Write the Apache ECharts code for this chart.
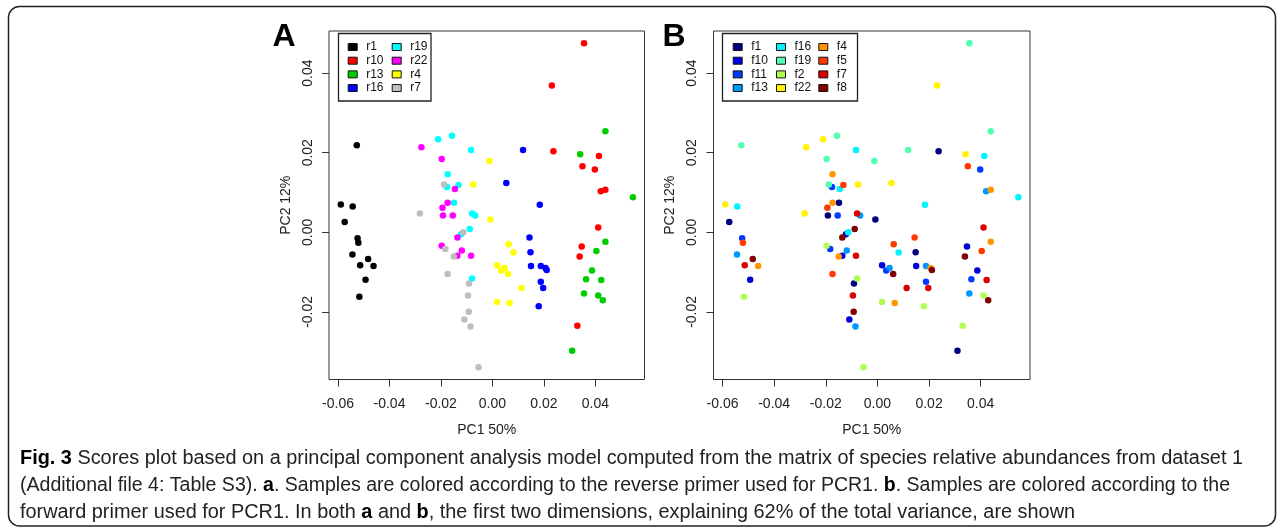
<!DOCTYPE html>
<html><head><meta charset="utf-8">
<script src="https://cdn.jsdelivr.net/npm/echarts@6/dist/echarts.min.js"></script>
<style>html,body{margin:0;padding:0;background:#fff}#c{width:1281px;height:530px}</style>
</head><body><div id="c"></div>
<script>
// ---- data (PCA scores, one entry per sample) ----
const pc1 = [
 -0.0527,-0.0589,-0.0543,-0.0574,-0.0524,-0.0521,-0.0544,-0.0483,-0.0514,-0.0462,-0.0493,-0.0517,
  0.0356, 0.0231, 0.0237, 0.0414, 0.0350, 0.0398, 0.0421, 0.0439, 0.0411, 0.0347, 0.0339, 0.0330,
  0.0439, 0.0341, 0.0546, 0.0439, 0.0404, 0.0387, 0.0364, 0.0423, 0.0356, 0.0411, 0.0429, 0.0310,
  0.0119, 0.0054, 0.0184, 0.0144, 0.0148, 0.0150, 0.0188, 0.0206, 0.0211, 0.0188, 0.0197, 0.0180,
 -0.0211,-0.0157,-0.0083,-0.0174,-0.0176,-0.0132,-0.0149,-0.0079,-0.0067,-0.0088,-0.0122,-0.0079,
 -0.0276,-0.0197,-0.0146,-0.0194,-0.0174,-0.0192,-0.0154,-0.0136,-0.0197,-0.0119,-0.0136,-0.0083,
 -0.0012,-0.0075,-0.0008, 0.0063, 0.0082, 0.0018, 0.0034, 0.0047, 0.0061, 0.0113, 0.0018, 0.0067,
 -0.0188,-0.0282,-0.0113,-0.0183,-0.0150,-0.0174,-0.0091,-0.0095,-0.0092,-0.0109,-0.0085,-0.0054
];
const pc2 = [
  0.0219, 0.0070, 0.0065, 0.0026,-0.0015,-0.0026,-0.0056,-0.0067,-0.0083,-0.0085,-0.0119,-0.0162,
  0.0475, 0.0369, 0.0204, 0.0192, 0.0166, 0.0158, 0.0103, 0.0107, 0.0012,-0.0036,-0.0061,-0.0235,
  0.0254, 0.0196, 0.0088,-0.0024,-0.0047,-0.0096,-0.0118,-0.0120,-0.0154,-0.0159,-0.0171,-0.0298,
  0.0207, 0.0124, 0.0069,-0.0013,-0.0050,-0.0085,-0.0085,-0.0090,-0.0095,-0.0124,-0.0140,-0.0186,
  0.0234, 0.0243, 0.0207, 0.0146, 0.0114, 0.0119, 0.0074, 0.0047, 0.0042, 0.0008,-0.0005,-0.0116,
  0.0214, 0.0184, 0.0109, 0.0062, 0.0074, 0.0042, 0.0042,-0.0013,-0.0034,-0.0046,-0.0059,-0.0059,
  0.0179, 0.0120, 0.0032,-0.0030,-0.0051,-0.0083,-0.0096,-0.0090,-0.0105,-0.0140,-0.0175,-0.0178,
  0.0120, 0.0047, 0.0000,-0.0042,-0.0061,-0.0105,-0.0129,-0.0159,-0.0200,-0.0219,-0.0237,-0.0339
];
const revPrimer = [
 'r1','r1','r1','r1','r1','r1','r1','r1','r1','r1','r1','r1',
 'r10','r10','r10','r10','r10','r10','r10','r10','r10','r10','r10','r10',
 'r13','r13','r13','r13','r13','r13','r13','r13','r13','r13','r13','r13',
 'r16','r16','r16','r16','r16','r16','r16','r16','r16','r16','r16','r16',
 'r19','r19','r19','r19','r19','r19','r19','r19','r19','r19','r19','r19',
 'r22','r22','r22','r22','r22','r22','r22','r22','r22','r22','r22','r22',
 'r4','r4','r4','r4','r4','r4','r4','r4','r4','r4','r4','r4',
 'r7','r7','r7','r7','r7','r7','r7','r7','r7','r7','r7','r7'
];
const fwdPrimer = [
 'f19','f22','f16','f1','f11','f5','f13','f8','f7','f4','f10','f2',
 'f19','f22','f1','f16','f5','f11','f13','f4','f7','f10','f8','f2',
 'f19','f22','f16','f4','f5','f10','f11','f7','f13','f2','f8','f1',
 'f19','f22','f16','f5','f1','f10','f13','f4','f8','f11','f7','f2',
 'f22','f19','f16','f4','f11','f5','f1','f7','f13','f8','f10','f2',
 'f22','f19','f16','f5','f4','f1','f11','f8','f2','f13','f10','f7',
 'f19','f22','f1','f5','f16','f10','f11','f13','f8','f7','f2','f4',
 'f19','f22','f16','f11','f4','f5','f1','f7','f8','f10','f13','f2'
];
const revLevels = ['r1','r10','r13','r16','r19','r22','r4','r7'];
const revColors = ['#000000','#FF0000','#00CD00','#0000FF','#00FFFF','#FF00FF','#FFFF00','#BEBEBE'];
const fwdLevels = ['f1','f10','f11','f13','f16','f19','f2','f22','f4','f5','f7','f8'];
const fwdColors = ['#00007F','#0000DC','#003AFF','#0096FF','#00F3FF','#51FFAE','#AEFF51','#FFF300','#FF9600','#FF3A00','#DC0000','#7F0000'];
const xTicks = [-0.06,-0.04,-0.02,0,0.02,0.04];
const yTicks = [-0.02,0,0.02,0.04];
const xRange = [-0.0635, 0.0591];
const yRange = [-0.0370, 0.0506];
const xName = 'PC1 50%';
const yName = 'PC2 12%';
const captionLines = [
 '{b|Fig. 3} Scores plot based on a principal component analysis model computed from the matrix of species relative abundances from dataset 1',
 '(Additional file 4: Table S3). {b|a}. Samples are colored according to the reverse primer used for PCR1. {b|b}. Samples are colored according to the',
 'forward primer used for PCR1. In both {b|a} and {b|b}, the first two dimensions, explaining 62% of the total variance, are shown'
];

// ---- chart ----
const FONT = '"Liberation Sans", Arial, sans-serif';
const CAPFONT = '"Liberation Sans", Arial, sans-serif';
const CAPSIZE = 20;
function lineWidth(line, size){
  const c = document.createElement('canvas').getContext('2d');
  let w = 0;
  line.split(/(\{b\|[^}]*\})/).forEach(part => {
    if (!part) return;
    const m = part.match(/^\{b\|([^}]*)\}$/);
    c.font = (m ? 'bold ' : '') + size + 'px ' + CAPFONT;
    w += c.measureText(m ? m[1] : part).width;
  });
  return w;
}
const s1 = 1223 / lineWidth(captionLines[0], CAPSIZE);
const s2 = Math.min(s1, 1210 / lineWidth(captionLines[1], CAPSIZE));
const capScales = [s1, s2, s1];

const gridsPx = [
  {left: 329, top: 31, width: 315.5, height: 348.5},
  {left: 713.5, top: 31, width: 316.5, height: 348.5}
];
function mkX(i){
  return {type:'value', gridIndex:i, min:xRange[0], max:xRange[1],
    axisLine:{show:false, onZero:false}, splitLine:{show:false},
    axisTick:{show:true, inside:false, length:7, customValues:xTicks, lineStyle:{color:'#333', width:1}},
    axisLabel:{customValues:xTicks, formatter:v=>v.toFixed(2), margin:18, fontSize:14, color:'#222', fontFamily:FONT},
    name:xName, nameLocation:'middle', nameGap:44, nameTextStyle:{fontSize:14, color:'#222', fontFamily:FONT}};
}
function mkY(i){
  return {type:'value', gridIndex:i, min:yRange[0], max:yRange[1],
    axisLine:{show:false, onZero:false}, splitLine:{show:false},
    axisTick:{show:true, inside:false, length:7, customValues:yTicks, lineStyle:{color:'#333', width:1}},
    axisLabel:{customValues:yTicks, rotate:90, formatter:v=>v.toFixed(2), margin:14, fontSize:14, color:'#222', fontFamily:FONT},
    name:yName, nameLocation:'middle', nameGap:36, nameRotate:90, nameTextStyle:{fontSize:14, color:'#222', fontFamily:FONT}};
}
const series = [];
revLevels.forEach((lv, k) => {
  const d = [];
  for (let i = 0; i < pc1.length; i++) if (revPrimer[i] === lv) d.push([pc1[i], pc2[i]]);
  series.push({type:'scatter', name:lv, xAxisIndex:0, yAxisIndex:0, data:d, symbol:'circle', symbolSize:6.5,
    itemStyle:{color:revColors[k], opacity:1}, emphasis:{disabled:true}, animation:false});
});
fwdLevels.forEach((lv, k) => {
  const d = [];
  for (let i = 0; i < pc1.length; i++) if (fwdPrimer[i] === lv) d.push([pc1[i], pc2[i]]);
  series.push({type:'scatter', name:lv, xAxisIndex:1, yAxisIndex:1, data:d, symbol:'circle', symbolSize:6.5,
    itemStyle:{color:fwdColors[k], opacity:1}, emphasis:{disabled:true}, animation:false});
});
function mkLegend(names, left){
  return {data:names, left:left, top:40.2, orient:'vertical', padding:0, itemGap:0,
    icon:'rect', itemWidth:9, itemHeight:7, selectedMode:false,
    itemStyle:{borderColor:'#111', borderWidth:1},
    textStyle:{fontSize:12, color:'#111', fontFamily:FONT, lineHeight:13.67, padding:[0,0,0,4]}};
}
const legends = [
  mkLegend(revLevels.slice(0,4), 347.7), mkLegend(revLevels.slice(4), 391.7),
  mkLegend(fwdLevels.slice(0,4), 732.7), mkLegend(fwdLevels.slice(4,8), 776), mkLegend(fwdLevels.slice(8), 818.3)
];
const rich = {b:{fontWeight:'bold', fontSize:CAPSIZE, fontFamily:CAPFONT, fill:'#000'}};
const graphic = [
  {type:'rect', silent:true, z:-10, shape:{x:8.5, y:6.5, width:1267, height:519.5, r:11},
   style:{fill:'none', stroke:'#222', lineWidth:1.5}},
  {type:'rect', silent:true, z:3, shape:{x:338.5, y:33.5, width:92.5, height:67.5},
   style:{fill:'#fff', stroke:'#222', lineWidth:1.3}},
  {type:'rect', silent:true, z:3, shape:{x:722.5, y:33.5, width:135, height:67.5},
   style:{fill:'#fff', stroke:'#222', lineWidth:1.3}},
  {type:'text', silent:true, style:{text:'A', x:272.5, y:37, font:'bold 32px ' + FONT, fill:'#000', textVerticalAlign:'middle'}},
  {type:'text', silent:true, style:{text:'B', x:662.5, y:37, font:'bold 32px ' + FONT, fill:'#000', textVerticalAlign:'middle'}}
];
[458, 485, 512].forEach((y, i) => {
  graphic.push({type:'text', silent:true, x:20, y:y, scaleX:capScales[i], originX:0, originY:0,
    style:{text:captionLines[i], x:0, y:0,
    fontSize:CAPSIZE, fontFamily:CAPFONT, fill:'#222', textVerticalAlign:'middle', rich:rich}});
});
const chart = echarts.init(document.getElementById('c'), null, {renderer:'canvas'});
chart.setOption({
  backgroundColor:'#fff', animation:false,
  grid: gridsPx.map(g => Object.assign({show:true, borderColor:'#333', borderWidth:1, backgroundColor:'#fff'}, g)),
  xAxis:[mkX(0), mkX(1)], yAxis:[mkY(0), mkY(1)],
  legend: legends, series: series, graphic: graphic
});
</script></body></html>
